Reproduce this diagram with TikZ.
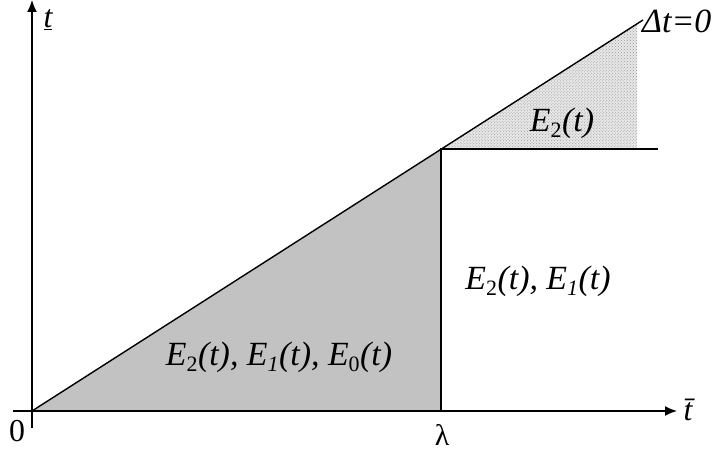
\documentclass[tikz,border=0pt]{standalone}
\usepackage{fontspec}
\setmainfont{Liberation Serif}
\usetikzlibrary{patterns,arrows.meta}
\newcommand{\sbs}[1]{\textsubscript{\fontsize{22}{22}\selectfont #1}}
\begin{document}
\begin{tikzpicture}[x=1bp,y=-1bp,
  lbl/.style={font=\fontsize{34}{38}\selectfont\itshape, inner sep=0pt},
  axis/.style={line width=1.6bp, -{Latex[length=12bp,width=10bp]}},
  ln/.style={line width=1.4bp}]
\useasboundingbox (0,0) rectangle (717,453);
% regions
\fill[gray!48] (32,411) -- (441,149.2) -- (441,411) -- cycle;
\fill[gray!18] (441,149.2) -- (637,23.8) -- (637,150) -- cycle;
\fill[pattern=crosshatch dots, pattern color=gray!80] (441,149.2) -- (637,23.8) -- (637,150) -- cycle;
% coordinates
\coordinate (O) at (32,411);
\coordinate (Ytop) at (32,0);
\coordinate (Ybot) at (32,428);
\coordinate (Xleft) at (13,411);
\coordinate (Xright) at (677,411);
\coordinate (D) at (643,20);
\coordinate (L) at (441,411);
\coordinate (K) at (441,149.2);
\coordinate (R) at (658,149.2);
% axes
\draw[axis] (Ybot) -- (Ytop);
\draw[axis] (Xleft) -- (Xright);
% lines
\draw[ln] (O) -- (D);
\draw[ln] (L) -- (K) -- (R);
% labels
\node[lbl, font=\fontsize{32}{36}\selectfont\itshape] (tu) at (48,20) {\underline{t}};
\node[lbl, font=\fontsize{32}{36}\selectfont\itshape] (tb) at (688,410) {\=t};
\node[lbl, font=\fontsize{32}{36}\selectfont] (zero) at (17,431) {0};
\node[lbl, font=\fontsize{30}{34}\selectfont, anchor=south] (lam) at (442,446) {λ};
\node[lbl, anchor=west] (dt) at (642,21) {Δt=0};
\node[lbl] (e2) at (562,123) {E\sbs{\upshape 2}(t)};
\node[lbl] (e21) at (538,281) {E\sbs{\upshape 2}(t), E\sbs{1}(t)};
\node[lbl] (e210) at (279,357) {E\sbs{\upshape 2}(t), E\sbs{1}(t), E\sbs{\upshape 0}(t)};
\end{tikzpicture}
\end{document}
